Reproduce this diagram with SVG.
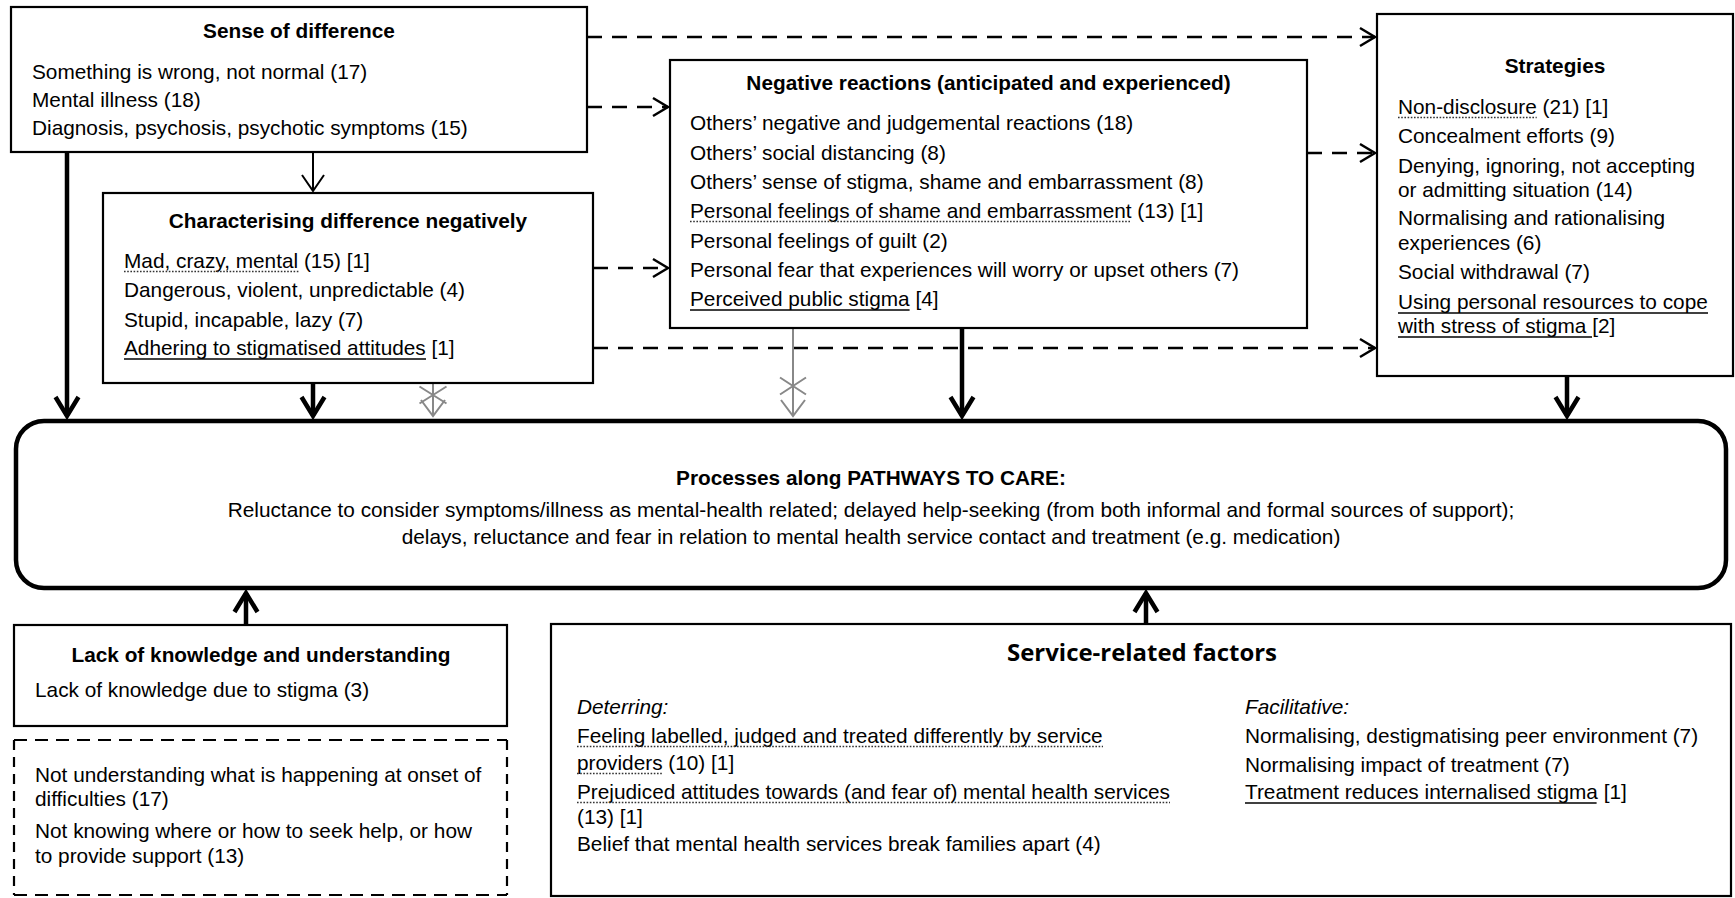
<svg xmlns="http://www.w3.org/2000/svg" width="1735" height="898" viewBox="0 0 1735 898">
<style>
.box{fill:#fff;stroke:#000;stroke-width:2.2}
.dh{stroke:#000;stroke-width:2.2;stroke-dasharray:13 8;fill:none}
.dv{stroke:#000;stroke-width:2.2;stroke-dasharray:10 7;fill:none}
.pbox{fill:#fff;stroke:#000;stroke-width:4.5}
.t{font-family:"Liberation Sans",Arial,sans-serif;font-size:20.8px;fill:#000}
.b{font-weight:bold}
.i{font-style:italic}
.m{text-anchor:middle}
.dash{stroke:#000;stroke-width:2.5;stroke-dasharray:15 10;fill:none}
.thick{stroke:#000;stroke-width:4.5;fill:none}
.thin{stroke:#000;stroke-width:2;fill:none}
.gray{stroke:#888;stroke-width:2;fill:none}
.ud{stroke:#333;stroke-width:1.5;stroke-dasharray:1.6 1.6}
.us{stroke:#000;stroke-width:1.5}
</style>
<defs>
<marker id="mo" markerUnits="userSpaceOnUse" orient="auto" refX="0" refY="0" markerWidth="30" markerHeight="30" viewBox="-20 -15 30 30" overflow="visible">
<path d="M-15,-9 L0,0 L-15,9" fill="none" stroke="#000" stroke-width="2.5"/>
</marker>
<marker id="mt" markerUnits="userSpaceOnUse" orient="auto" refX="0" refY="0" markerWidth="30" markerHeight="30" viewBox="-20 -15 30 30" overflow="visible">
<path d="M-16,-11 L0,0 L-16,11" fill="none" stroke="#000" stroke-width="2"/>
</marker>
<marker id="mk" markerUnits="userSpaceOnUse" orient="auto" refX="0" refY="0" markerWidth="30" markerHeight="30" viewBox="-25 -15 30 30" overflow="visible">
<path d="M-19,-11.5 L0,0 L-19,11.5" fill="none" stroke="#000" stroke-width="4.5"/>
</marker>
<marker id="mg" markerUnits="userSpaceOnUse" orient="auto" refX="0" refY="0" markerWidth="30" markerHeight="30" viewBox="-20 -15 30 30" overflow="visible">
<path d="M-16,-12 L0,0 L-16,12" fill="none" stroke="#888" stroke-width="2"/>
</marker>
</defs>
<rect x="0" y="0" width="1735" height="898" fill="#fff"/>

<g id="connectors">
<path class="dash" d="M587,37 H1375" marker-end="url(#mo)"/>
<path class="dash" d="M587,107 H668" marker-end="url(#mo)"/>
<path class="dash" d="M1307,153 H1375" marker-end="url(#mo)"/>
<path class="dash" d="M593,268 H668" marker-end="url(#mo)"/>
<path class="dash" d="M593,348 H1375" marker-end="url(#mo)"/>
<path class="thin" d="M313,152 V191" marker-end="url(#mt)"/>
<path class="thick" d="M67,152 V416" marker-end="url(#mk)"/>
<path class="thick" d="M313,383 V416" marker-end="url(#mk)"/>
<path class="thick" d="M962,328 V416" marker-end="url(#mk)"/>
<path class="thick" d="M1567,376 V416" marker-end="url(#mk)"/>
<path class="thick" d="M246,625 V593" marker-end="url(#mk)"/>
<path class="thick" d="M1146,624 V593" marker-end="url(#mk)"/>
<path class="gray" d="M433,384 V416" marker-end="url(#mg)"/>
<path class="gray" d="M419.5,386.5 L446.5,403.5 M419.5,403.5 L446.5,386.5"/>
<path class="gray" d="M793,328 V416" marker-end="url(#mg)"/>
<path class="gray" d="M780,377.5 L806,394.5 M780,394.5 L806,377.5"/>
</g>

<g id="sense">
<rect class="box" x="11" y="7" width="576" height="145"/>
<text class="t b m" x="299" y="38">Sense of difference</text>
<text class="t" x="32" y="79">Something is wrong, not normal (17)</text>
<text class="t" x="32" y="107">Mental illness (18)</text>
<text class="t" x="32" y="135">Diagnosis, psychosis, psychotic symptoms (15)</text>
</g>

<g id="characterising">
<rect class="box" x="103" y="193" width="490" height="190"/>
<text class="t b m" x="348" y="228">Characterising difference negatively</text>
<text class="t" x="124" y="268">Mad, crazy, mental (15) [1]</text>
<text class="t" x="124" y="297">Dangerous, violent, unpredictable (4)</text>
<text class="t" x="124" y="327">Stupid, incapable, lazy (7)</text>
<text class="t" x="124" y="355">Adhering to stigmatised attitudes [1]</text>
<line class="ud" x1="124" y1="271.5" x2="300" y2="271.5"/>
<line class="us" x1="124" y1="359" x2="426" y2="359"/>
</g>

<g id="negative">
<rect class="box" x="670" y="60" width="637" height="268"/>
<text class="t b m" x="988.5" y="90">Negative reactions (anticipated and experienced)</text>
<text class="t" x="690" y="130">Others&#8217; negative and judgemental reactions (18)</text>
<text class="t" x="690" y="160">Others&#8217; social distancing (8)</text>
<text class="t" x="690" y="189">Others&#8217; sense of stigma, shame and embarrassment (8)</text>
<text class="t" x="690" y="218">Personal feelings of shame and embarrassment (13) [1]</text>
<text class="t" x="690" y="248">Personal feelings of guilt (2)</text>
<text class="t" x="690" y="277">Personal fear that experiences will worry or upset others (7)</text>
<text class="t" x="690" y="306">Perceived public stigma [4]</text>
<line class="ud" x1="690" y1="221.5" x2="1131.5" y2="221.5"/>
<line class="us" x1="690" y1="310" x2="909.6" y2="310"/>
</g>

<g id="strategies">
<rect class="box" x="1377" y="14" width="356" height="362"/>
<text class="t b m" x="1555" y="73">Strategies</text>
<text class="t" x="1398" y="114">Non-disclosure (21) [1]</text>
<text class="t" x="1398" y="143">Concealment efforts (9)</text>
<text class="t" x="1398" y="173">Denying, ignoring, not accepting</text>
<text class="t" x="1398" y="197">or admitting situation (14)</text>
<text class="t" x="1398" y="225">Normalising and rationalising</text>
<text class="t" x="1398" y="250">experiences (6)</text>
<text class="t" x="1398" y="279">Social withdrawal (7)</text>
<text class="t" x="1398" y="309">Using personal resources to cope</text>
<text class="t" x="1398" y="333">with stress of stigma [2]</text>
<line class="ud" x1="1398" y1="117.5" x2="1536.7" y2="117.5"/>
<line class="us" x1="1398" y1="313" x2="1708" y2="313"/>
<line class="us" x1="1398" y1="337" x2="1592" y2="337"/>
</g>

<g id="pathways">
<rect class="pbox" x="16" y="421" width="1710" height="167" rx="28" ry="28"/>
<text class="t b m" x="871" y="485">Processes along PATHWAYS TO CARE:</text>
<text class="t m" x="871" y="517">Reluctance to consider symptoms/illness as mental-health related; delayed help-seeking (from both informal and formal sources of support);</text>
<text class="t m" x="871" y="544">delays, reluctance and fear in relation to mental health service contact and treatment (e.g. medication)</text>
</g>

<g id="lack">
<rect class="box" x="14" y="625" width="493" height="101"/>
<text class="t b m" x="261" y="662">Lack of knowledge and understanding</text>
<text class="t" x="35" y="697">Lack of knowledge due to stigma (3)</text>
</g>

<g id="lack-detail">
<rect x="14" y="740" width="493" height="155" fill="#fff"/>
<path class="dh" d="M14,740 H507 M14,895 H507"/>
<path class="dv" d="M14,740 V895 M507,740 V895"/>
<text class="t" x="35" y="782">Not understanding what is happening at onset of</text>
<text class="t" x="35" y="806">difficulties (17)</text>
<text class="t" x="35" y="838">Not knowing where or how to seek help, or how</text>
<text class="t" x="35" y="863">to provide support (13)</text>
</g>

<g id="service">
<rect class="box" x="551" y="624" width="1180" height="272"/>
<text x="1142" y="661" text-anchor="middle" font-family="'Open Sans','Liberation Sans',sans-serif" font-weight="bold" font-size="24" textLength="270" lengthAdjust="spacingAndGlyphs">Service-related factors</text>
<text class="t i" x="577" y="714">Deterring:</text>
<text class="t" x="577" y="743">Feeling labelled, judged and treated differently by service</text>
<text class="t" x="577" y="770">providers (10) [1]</text>
<text class="t" x="577" y="799">Prejudiced attitudes towards (and fear of) mental health services</text>
<text class="t" x="577" y="824">(13) [1]</text>
<text class="t" x="577" y="851">Belief that mental health services break families apart (4)</text>
<text class="t i" x="1245" y="714">Facilitative:</text>
<text class="t" x="1245" y="743">Normalising, destigmatising peer environment (7)</text>
<text class="t" x="1245" y="772">Normalising impact of treatment (7)</text>
<text class="t" x="1245" y="799">Treatment reduces internalised stigma [1]</text>
<line class="ud" x1="577" y1="746.5" x2="1103" y2="746.5"/>
<line class="ud" x1="577" y1="773.5" x2="662.5" y2="773.5"/>
<line class="ud" x1="577" y1="802.5" x2="1170" y2="802.5"/>
<line class="us" x1="1245" y1="803" x2="1596.6" y2="803"/>
</g>
</svg>
